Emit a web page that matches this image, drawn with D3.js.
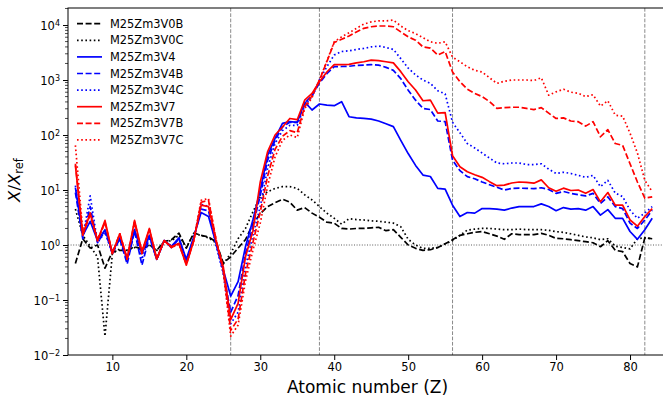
<!DOCTYPE html>
<html lang="en">
<head>
	<meta charset="utf-8">
	<title>X/Xref vs atomic number</title>
	<script src="https://d3js.org/d3.v7.min.js"></script>
	<style type="text/css">
		body { margin: 0; background: #fff; }
		svg { display: block; font-family: "DejaVu Sans", sans-serif; }
	</style>
</head>
<body>
<script type="text/javascript">

	// atomic numbers Z = 5 .. 83
	let zValues = [5, 6, 7, 8, 9, 10, 11, 12, 13, 14,
		15, 16, 17, 18, 19, 20, 21, 22, 23, 24,
		25, 26, 27, 28, 29, 30, 31, 32, 33, 34,
		35, 36, 37, 38, 39, 40, 41, 42, 43, 44,
		45, 46, 47, 48, 49, 50, 51, 52, 53, 54,
		55, 56, 57, 58, 59, 60, 61, 62, 63, 64,
		65, 66, 67, 68, 69, 70, 71, 72, 73, 74,
		75, 76, 77, 78, 79, 80, 81, 82, 83];

	let seriesNames = ["M25Zm3V0B", "M25Zm3V0C", "M25Zm3V4", "M25Zm3V4B",
		"M25Zm3V4C", "M25Zm3V7", "M25Zm3V7B", "M25Zm3V7C"];

	let v0b = [0.46, 1.3, 0.88, 1.0, 0.38, 0.75, 0.8, 0.8, 0.93, 0.85,
		1.0, 0.8, 1.15, 1.25, 1.65, 0.88, 1.65, 1.5, 1.4, 1.15,
		0.47, 0.61, 0.88, 1.25, 2.4, 3.7, 5.0, 5.9, 6.8, 6.0,
		4.3, 4.8, 3.8, 3.2, 2.6, 2.5, 2.0, 1.95, 2.0, 2.0,
		2.05, 2.1, 1.82, 1.9, 1.38, 1.0, 0.87, 0.8, 0.82, 0.9,
		1.05, 1.25, 1.5, 1.6, 1.7, 1.75, 1.6, 1.45, 1.27, 1.6,
		1.55, 1.55, 1.55, 1.63, 1.5, 1.32, 1.3, 1.25, 1.2, 1.15,
		1.1, 0.93, 1.2, 0.8, 0.76, 0.46, 0.4, 1.35, 1.3];

	let v0c = [4.5, 1.5, 0.95, 0.6, 0.022, 0.7, 0.85, 0.8, 0.9, 0.85,
		1.0, 0.8, 1.15, 1.2, 1.5, 0.9, 1.6, 1.5, 1.35, 1.1,
		0.45, 0.7, 1.3, 2.0, 4.0, 7.5, 9.3, 10.7, 11.5, 11.5,
		10.7, 8.2, 6.6, 5.0, 3.8, 3.06, 2.4, 3.0, 2.9, 2.85,
		2.75, 2.7, 2.6, 2.5, 2.15, 1.27, 1.0, 0.87, 0.87, 0.9,
		1.05, 1.2, 1.5, 1.87, 1.95, 2.0, 2.0, 1.95, 1.9, 1.9,
		1.95, 1.9, 1.9, 1.9, 1.85, 1.75, 1.7, 1.6, 1.5, 1.4,
		1.35, 1.25, 1.3, 0.95, 0.9, 0.85, 1.3, 1.35, 1.3];

	let v4 = [11, 1.5, 2.7, 1.2, 1.9, 0.75, 1.35, 0.55, 1.9, 0.7,
		1.5, 0.55, 1.2, 0.95, 1.35, 0.55, 1.4, 3.9, 3.3, 1.1,
		0.35, 0.118, 0.215, 0.93, 2.85, 10, 43, 87, 163, 175,
		170, 400, 285, 366, 350, 341, 403, 215, 205, 200,
		195, 180, 160, 142, 80, 46, 28, 18.7, 17.6, 10.7,
		10.4, 5.3, 3.3, 3.9, 3.8, 4.6, 4.6, 4.5, 4.3, 4.7,
		5.0, 5.0, 5.0, 5.6, 5.0, 4.2, 4.8, 4.5, 4.6, 4.3,
		5.0, 3.5, 4.4, 3.06, 3.06, 1.76, 1.27, 1.9, 3.06];

	let v4b = [9, 1.3, 5, 1.1, 1.8, 0.7, 1.3, 0.45, 1.8, 0.43,
		1.4, 0.55, 1.2, 0.9, 1.3, 0.5, 1.3, 4.5, 4.2, 1.1,
		0.32, 0.06, 0.12, 0.7, 2.2, 8, 35, 80, 140, 170,
		170, 380, 520, 880, 1300, 1750, 1760, 1780, 1850, 1870,
		1900, 1870, 1700, 1500, 1060, 655, 430, 305, 290, 180,
		175, 35, 22.5, 17.5, 16, 14, 12.5, 11.2, 10.0, 10.7,
		10.8, 10.7, 10.6, 11, 10.2, 8.7, 9.4, 8.7, 8.2, 7.8,
		8.7, 5.7, 7.5, 5.0, 4.6, 2.5, 2.0, 2.85, 4.3];

	let v4c = [12, 1.4, 7.8, 1.1, 1.7, 0.7, 1.3, 0.5, 1.9, 0.55,
		1.5, 0.55, 1.2, 0.95, 1.3, 0.5, 1.3, 5.5, 5.0, 1.0,
		0.3, 0.037, 0.06, 0.4, 1.5, 5, 25, 70, 120, 150,
		150, 330, 500, 1000, 1740, 2850, 3300, 3400, 3600, 3750,
		4000, 4150, 3900, 3600, 2450, 1650, 1240, 1000, 870, 640,
		560, 170, 110, 70, 58, 47, 38, 31, 30, 31,
		31, 29, 29, 30, 24, 20, 21, 20, 18.5, 17,
		18.5, 11.5, 15, 8.8, 7.6, 4.3, 3.06, 3.8, 5.0];

	let v7 = [28, 1.5, 3.8, 1.2, 2.8, 0.7, 1.6, 0.57, 2.8, 0.76,
		2.0, 0.56, 1.2, 0.93, 1.07, 0.43, 1.2, 5.3, 5.0, 1.2,
		0.4, 0.044, 0.087, 0.61, 1.8, 14, 50, 100, 140, 200,
		190, 430, 570, 930, 1400, 1900, 1900, 1920, 2050, 2150,
		2300, 2250, 2150, 2050, 1420, 930, 660, 420, 430, 250,
		255, 42, 26.5, 21.5, 19, 17, 14.2, 12, 12.3, 13.4,
		14, 13.8, 13.3, 15.3, 11, 9.5, 10.8, 9.8, 10, 8.7,
		10.2, 6.1, 9.0, 5.3, 5.3, 2.85, 2.2, 3.3, 4.6];

	let v7b = [30, 1.6, 3.5, 1.2, 2.6, 0.7, 1.6, 0.55, 2.6, 0.7,
		1.9, 0.55, 1.2, 0.9, 1.05, 0.45, 1.2, 6.0, 6.5, 1.3,
		0.35, 0.028, 0.045, 0.3, 1.1, 4, 18, 55, 95, 120,
		110, 330, 520, 1000, 2150, 4800, 5500, 6300, 7500, 8700,
		9300, 9600, 9600, 9300, 7500, 6100, 5300, 4000, 3800, 2850,
		3300, 1400, 930, 680, 570, 500, 405, 305, 315, 320,
		320, 305, 290, 315, 250, 200, 205, 180, 175, 145,
		175, 93, 125, 70, 65, 30, 14, 7.1, 7.5];

	let v7c = [65, 1.8, 3.8, 1.3, 2.5, 0.7, 1.6, 0.55, 2.6, 0.7,
		1.9, 0.55, 1.2, 0.9, 1.05, 0.45, 1.2, 6.5, 7.0, 1.3,
		0.33, 0.022, 0.035, 0.22, 0.8, 2.5, 12, 40, 80, 100,
		90, 300, 480, 1000, 2200, 4950, 6100, 7200, 8700, 10400,
		11400, 11900, 11900, 12300, 9600, 7900, 7000, 5900, 4950, 4650,
		4950, 2600, 2150, 1740, 1500, 1400, 1100, 870, 950, 1000,
		1000, 1000, 980, 1100, 530, 610, 680, 600, 575, 500,
		540, 335, 420, 230, 220, 108, 47, 15, 9.3];

	let seriesValues = [v0b, v0c, v4, v4b, v4c, v7, v7b, v7c];

	// reference lines (Fe, Sr, Ba, Pb) and tick values
	let markerZ = [26, 38, 56, 82];
	let xTicks = [10, 20, 30, 40, 50, 60, 70, 80];
	let yExponents = [-2, -1, 0, 1, 2, 3, 4];

	// line styles per series
	let colors = ["#000000", "#000000", "#0000ff", "#0000ff", "#0000ff", "#ff0000", "#ff0000", "#ff0000"];
	let dashes = ["6,2.6", "1.6,2.6", null, "6,2.6", "1.6,2.6", null, "6,2.6", "1.6,2.6"];

	//Width and height
	let w = 663;
	let h = 401;
	let padLeft = 68, padRight = 667, padTop = 8, padBottom = 355;

	let xScale = d3.scaleLinear()
		.domain([4, 85])
		.range([padLeft, padRight]);

	let yScale = d3.scaleLog()
		.domain([0.01, 20400])
		.range([padBottom, padTop]);

	let svg = d3.select("body")
		.append("svg")
		.attr("width", w)
		.attr("height", h);

	//vertical dashed marker lines
	svg.selectAll("line.marker")
		.data(markerZ)
		.enter()
		.append("line")
		.attr("class", "marker")
		.attr("x1", function (d) { return xScale(d); })
		.attr("x2", function (d) { return xScale(d); })
		.attr("y1", padTop)
		.attr("y2", padBottom)
		.attr("stroke", "#8a8a8a")
		.attr("stroke-width", 1)
		.attr("stroke-dasharray", "3.7,1.6");

	//horizontal dotted line at 1
	svg.append("line")
		.attr("x1", padLeft)
		.attr("x2", padRight)
		.attr("y1", yScale(1))
		.attr("y2", yScale(1))
		.attr("stroke", "#333")
		.attr("stroke-width", 0.8)
		.attr("stroke-dasharray", "1,1.6");

	//series lines
	let line = d3.line()
		.x(function (d) { return xScale(d[0]); })
		.y(function (d) { return yScale(d[1]); });

	seriesValues.forEach(function (vals, i) {
		svg.append("path")
			.datum(d3.zip(zValues, vals))
			.attr("d", line)
			.attr("fill", "none")
			.attr("stroke", colors[i])
			.attr("stroke-width", 1.7)
			.attr("stroke-linejoin", "round")
			.attr("stroke-dasharray", dashes[i]);
	});

	//frame
	svg.append("rect")
		.attr("x", padLeft)
		.attr("y", padTop)
		.attr("width", padRight - padLeft)
		.attr("height", padBottom - padTop)
		.attr("fill", "none")
		.attr("stroke", "#000")
		.attr("stroke-width", 1);

	// x axis
	let xAxis = d3.axisBottom(xScale)
		.tickValues(xTicks)
		.tickSize(5)
		.tickPadding(3);

	let gx = svg.append("g")
		.attr("transform", "translate(0," + padBottom + ")")
		.call(xAxis);
	gx.select(".domain").remove();
	gx.selectAll("text")
		.attr("font-family", "DejaVu Sans")
		.attr("font-size", "11.5px")
		.attr("fill", "#000");

	// y axis, majors with superscript labels
	let yAxis = d3.axisLeft(yScale)
		.tickValues(yExponents.map(function (e) { return Math.pow(10, e); }))
		.tickSize(5)
		.tickFormat("");

	let gy = svg.append("g")
		.attr("transform", "translate(" + padLeft + ",0)")
		.call(yAxis);
	gy.select(".domain").remove();

	gy.selectAll(".tick").each(function (d, i) {
		let e = yExponents[i];
		let t = d3.select(this).append("text")
			.attr("x", -8)
			.attr("dy", "0.36em")
			.attr("text-anchor", "end")
			.attr("font-family", "DejaVu Sans")
			.attr("font-size", "11.5px")
			.attr("fill", "#000");
		t.append("tspan").text("10");
		t.append("tspan")
			.attr("dy", "-0.45em")
			.attr("font-size", "8px")
			.text(e < 0 ? "\u2212" + Math.abs(e) : e);
	});

	// minor ticks
	let minors = [];
	yExponents.forEach(function (e) {
		for (let k = 2; k <= 9; k++) {
			let v = k * Math.pow(10, e);
			if (v <= yScale.domain()[1]) minors.push(v);
		}
	});
	svg.append("g")
		.selectAll("line")
		.data(minors)
		.enter()
		.append("line")
		.attr("x1", padLeft - 3)
		.attr("x2", padLeft)
		.attr("y1", function (d) { return yScale(d); })
		.attr("y2", function (d) { return yScale(d); })
		.attr("stroke", "#000")
		.attr("stroke-width", 0.7);

	// axis labels
	svg.append("text")
		.attr("x", (padLeft + padRight) / 2)
		.attr("y", 392.5)
		.attr("text-anchor", "middle")
		.attr("font-size", "17px")
		.attr("fill", "#000")
		.text("Atomic number (Z)");

	let ylab = svg.append("text")
		.attr("transform", "translate(20,180) rotate(-90)")
		.attr("text-anchor", "middle")
		.attr("font-size", "16.5px")
		.attr("fill", "#000");
	ylab.append("tspan").attr("font-style", "italic").text("X");
	ylab.append("tspan").text("/");
	ylab.append("tspan").attr("font-style", "italic").text("X");
	ylab.append("tspan").attr("dy", "0.25em").attr("font-size", "11.5px").text("ref");

	// legend
	let legend = svg.append("g");
	seriesNames.forEach(function (name, i) {
		let yy = 23.7 + i * 16.6;
		legend.append("line")
			.attr("x1", 77)
			.attr("x2", 102)
			.attr("y1", yy)
			.attr("y2", yy)
			.attr("stroke", colors[i])
			.attr("stroke-width", 1.7)
			.attr("stroke-dasharray", dashes[i]);
		legend.append("text")
			.attr("x", 110)
			.attr("y", yy)
			.attr("dy", "0.36em")
			.attr("font-size", "11.4px")
			.attr("fill", "#000")
			.text(name);
	});

</script>
</body>
</html>
